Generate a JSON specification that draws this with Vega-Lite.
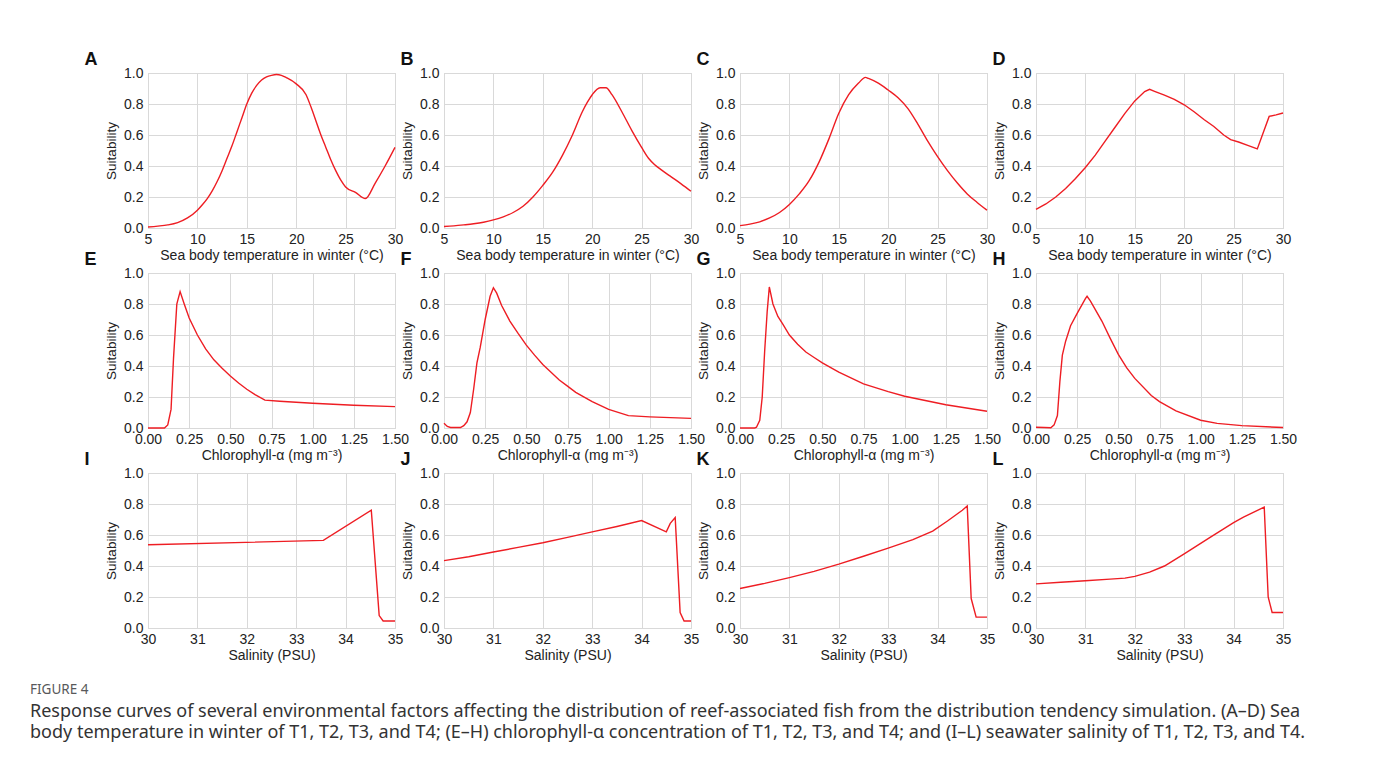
{
  "$schema": "https://vega.github.io/schema/vega-lite/v6.json",
  "background": "white",
  "padding": {"left": 30, "top": 50, "right": 5, "bottom": 5},
  "title": {
    "text": "FIGURE 4",
    "subtitle": [
      "Response curves of several environmental factors affecting the distribution of reef-associated fish from the distribution tendency simulation. (A–D) Sea",
      "body temperature in winter of T1, T2, T3, and T4; (E–H) chlorophyll-α concentration of T1, T2, T3, and T4; and (I–L) seawater salinity of T1, T2, T3, and T4."
    ],
    "orient": "bottom",
    "anchor": "start",
    "frame": "group",
    "dx": -118,
    "offset": 13,
    "font": "Noto Sans",
    "fontSize": 13.5,
    "fontWeight": "normal",
    "color": "#58595b",
    "subtitleFont": "Noto Sans",
    "subtitleFontSize": 18,
    "subtitleColor": "#333333",
    "subtitlePadding": 7,
    "subtitleLineHeight": 21
  },
  "config": {
    "font": "Liberation Sans",
    "view": {"stroke": "#cfcfcf", "strokeWidth": 1},
    "axis": {"domain": false, "ticks": false, "grid": true, "gridColor": "#d9d9d9", "gridWidth": 1, "labelFontSize": 14, "labelColor": "#222222", "labelFlush": false, "titleFontSize": 14, "titleFontWeight": "normal", "titleColor": "#222222"},
    "axisX": {"labelPadding": 4, "titlePadding": 2},
    "axisY": {"labelPadding": 5, "titlePadding": 5, "titleFontSize": 13.5},
    "title": {"anchor": "start", "frame": "bounds", "fontSize": 18, "fontWeight": "bold", "color": "#111111", "offset": 0, "dy": 7},
    "line": {"color": "#ee1d23", "strokeWidth": 1.4}
  },
  "datasets": {
    "A": [{"x":5,"y":0.006},{"x":6,"y":0.012},{"x":7,"y":0.02},{"x":8,"y":0.035},{"x":9,"y":0.065},{"x":10,"y":0.115},{"x":10.5,"y":0.15},{"x":11,"y":0.19},{"x":11.5,"y":0.24},{"x":12,"y":0.3},{"x":12.5,"y":0.37},{"x":13,"y":0.45},{"x":13.5,"y":0.53},{"x":14,"y":0.62},{"x":14.5,"y":0.71},{"x":15,"y":0.8},{"x":15.5,"y":0.87},{"x":16,"y":0.92},{"x":16.5,"y":0.955},{"x":17,"y":0.975},{"x":17.5,"y":0.985},{"x":18,"y":0.99},{"x":18.5,"y":0.985},{"x":19,"y":0.97},{"x":20,"y":0.93},{"x":21,"y":0.86},{"x":21.5,"y":0.78},{"x":22,"y":0.69},{"x":22.5,"y":0.6},{"x":23,"y":0.52},{"x":23.5,"y":0.44},{"x":24,"y":0.37},{"x":24.5,"y":0.31},{"x":25,"y":0.265},{"x":26,"y":0.23},{"x":27,"y":0.19},{"x":28,"y":0.29},{"x":29,"y":0.4},{"x":30,"y":0.52}],
    "B": [{"x":5,"y":0.01},{"x":6,"y":0.014},{"x":7,"y":0.02},{"x":8,"y":0.027},{"x":9,"y":0.037},{"x":10,"y":0.052},{"x":11,"y":0.072},{"x":12,"y":0.1},{"x":13,"y":0.14},{"x":14,"y":0.2},{"x":15,"y":0.275},{"x":16,"y":0.36},{"x":17,"y":0.47},{"x":18,"y":0.6},{"x":19,"y":0.75},{"x":19.5,"y":0.81},{"x":20,"y":0.86},{"x":20.8,"y":0.905},{"x":21.4,"y":0.905},{"x":22,"y":0.86},{"x":23,"y":0.75},{"x":24,"y":0.63},{"x":25,"y":0.52},{"x":25.7,"y":0.45},{"x":26.3,"y":0.41},{"x":27,"y":0.375},{"x":28,"y":0.33},{"x":29,"y":0.285},{"x":30,"y":0.237}],
    "C": [{"x":5,"y":0.015},{"x":6,"y":0.025},{"x":7,"y":0.04},{"x":8,"y":0.065},{"x":9,"y":0.1},{"x":10,"y":0.152},{"x":11,"y":0.22},{"x":12,"y":0.305},{"x":13,"y":0.425},{"x":14,"y":0.575},{"x":15,"y":0.74},{"x":16,"y":0.86},{"x":17,"y":0.935},{"x":17.7,"y":0.972},{"x":18,"y":0.965},{"x":19,"y":0.935},{"x":20,"y":0.89},{"x":21,"y":0.84},{"x":22,"y":0.77},{"x":23,"y":0.67},{"x":24,"y":0.56},{"x":25,"y":0.46},{"x":26,"y":0.37},{"x":27,"y":0.29},{"x":28,"y":0.22},{"x":29,"y":0.165},{"x":30,"y":0.115}],
    "D": [{"x":5,"y":0.12},{"x":6,"y":0.155},{"x":7,"y":0.2},{"x":8,"y":0.255},{"x":9,"y":0.32},{"x":10,"y":0.39},{"x":11,"y":0.47},{"x":12,"y":0.56},{"x":13,"y":0.65},{"x":14,"y":0.74},{"x":15,"y":0.82},{"x":16,"y":0.88},{"x":16.5,"y":0.895},{"x":17,"y":0.882},{"x":18,"y":0.857},{"x":19,"y":0.83},{"x":20,"y":0.795},{"x":21,"y":0.75},{"x":22,"y":0.7},{"x":23,"y":0.655},{"x":24,"y":0.6},{"x":24.7,"y":0.57},{"x":25.5,"y":0.555},{"x":26.5,"y":0.532},{"x":27.4,"y":0.51},{"x":28.6,"y":0.72},{"x":29.3,"y":0.73},{"x":30,"y":0.742}],
    "E": [{"x":0,"y":0.0},{"x":0.1,"y":0.0},{"x":0.12,"y":0.02},{"x":0.14,"y":0.12},{"x":0.155,"y":0.45},{"x":0.175,"y":0.8},{"x":0.18,"y":0.82},{"x":0.195,"y":0.88},{"x":0.22,"y":0.8},{"x":0.25,"y":0.71},{"x":0.3,"y":0.6},{"x":0.35,"y":0.51},{"x":0.4,"y":0.44},{"x":0.45,"y":0.385},{"x":0.5,"y":0.335},{"x":0.55,"y":0.29},{"x":0.6,"y":0.25},{"x":0.65,"y":0.215},{"x":0.71,"y":0.18},{"x":0.8,"y":0.173},{"x":1.0,"y":0.16},{"x":1.25,"y":0.147},{"x":1.5,"y":0.138}],
    "F": [{"x":0,"y":0.03},{"x":0.02,"y":0.01},{"x":0.04,"y":0.003},{"x":0.1,"y":0.003},{"x":0.12,"y":0.015},{"x":0.14,"y":0.04},{"x":0.16,"y":0.1},{"x":0.18,"y":0.25},{"x":0.2,"y":0.42},{"x":0.22,"y":0.52},{"x":0.25,"y":0.7},{"x":0.28,"y":0.85},{"x":0.3,"y":0.905},{"x":0.32,"y":0.87},{"x":0.35,"y":0.79},{"x":0.4,"y":0.69},{"x":0.45,"y":0.61},{"x":0.5,"y":0.535},{"x":0.55,"y":0.47},{"x":0.6,"y":0.41},{"x":0.7,"y":0.31},{"x":0.75,"y":0.27},{"x":0.8,"y":0.23},{"x":0.9,"y":0.17},{"x":1.0,"y":0.12},{"x":1.12,"y":0.08},{"x":1.25,"y":0.072},{"x":1.5,"y":0.062}],
    "G": [{"x":0,"y":0.0},{"x":0.09,"y":0.0},{"x":0.1,"y":0.005},{"x":0.12,"y":0.05},{"x":0.135,"y":0.2},{"x":0.15,"y":0.5},{"x":0.165,"y":0.75},{"x":0.178,"y":0.91},{"x":0.2,"y":0.8},{"x":0.23,"y":0.72},{"x":0.26,"y":0.67},{"x":0.3,"y":0.6},{"x":0.35,"y":0.54},{"x":0.4,"y":0.49},{"x":0.45,"y":0.455},{"x":0.5,"y":0.42},{"x":0.6,"y":0.36},{"x":0.75,"y":0.285},{"x":0.9,"y":0.235},{"x":1.0,"y":0.205},{"x":1.25,"y":0.15},{"x":1.5,"y":0.108}],
    "H": [{"x":0,"y":0.005},{"x":0.05,"y":0.003},{"x":0.09,"y":0.002},{"x":0.11,"y":0.02},{"x":0.13,"y":0.08},{"x":0.145,"y":0.3},{"x":0.16,"y":0.47},{"x":0.18,"y":0.56},{"x":0.21,"y":0.66},{"x":0.25,"y":0.74},{"x":0.3,"y":0.835},{"x":0.31,"y":0.85},{"x":0.33,"y":0.82},{"x":0.4,"y":0.69},{"x":0.45,"y":0.58},{"x":0.5,"y":0.475},{"x":0.55,"y":0.39},{"x":0.6,"y":0.32},{"x":0.7,"y":0.21},{"x":0.75,"y":0.17},{"x":0.85,"y":0.11},{"x":1.0,"y":0.05},{"x":1.1,"y":0.03},{"x":1.25,"y":0.015},{"x":1.5,"y":0.003}],
    "I": [{"x":30,"y":0.537},{"x":33.55,"y":0.565},{"x":34.52,"y":0.76},{"x":34.68,"y":0.08},{"x":34.76,"y":0.045},{"x":35,"y":0.045}],
    "J": [{"x":30,"y":0.435},{"x":30.5,"y":0.46},{"x":31,"y":0.49},{"x":31.5,"y":0.52},{"x":32,"y":0.55},{"x":32.5,"y":0.585},{"x":33,"y":0.62},{"x":33.5,"y":0.655},{"x":34,"y":0.693},{"x":34.5,"y":0.62},{"x":34.58,"y":0.675},{"x":34.68,"y":0.712},{"x":34.78,"y":0.1},{"x":34.86,"y":0.045},{"x":35,"y":0.045}],
    "K": [{"x":30,"y":0.255},{"x":30.5,"y":0.288},{"x":31,"y":0.325},{"x":31.5,"y":0.365},{"x":32,"y":0.412},{"x":32.5,"y":0.463},{"x":33,"y":0.515},{"x":33.5,"y":0.57},{"x":33.9,"y":0.625},{"x":34.2,"y":0.69},{"x":34.5,"y":0.76},{"x":34.6,"y":0.787},{"x":34.68,"y":0.19},{"x":34.78,"y":0.07},{"x":35,"y":0.07}],
    "L": [{"x":30,"y":0.285},{"x":30.5,"y":0.295},{"x":31,"y":0.305},{"x":31.5,"y":0.315},{"x":31.8,"y":0.322},{"x":32,"y":0.333},{"x":32.3,"y":0.36},{"x":32.6,"y":0.4},{"x":33,"y":0.478},{"x":33.5,"y":0.58},{"x":34,"y":0.68},{"x":34.2,"y":0.715},{"x":34.62,"y":0.78},{"x":34.7,"y":0.2},{"x":34.78,"y":0.1},{"x":35,"y":0.1}]
  },
  "columns": 4,
  "bounds": "flush",
  "spacing": {"row": 45, "column": 49},
  "concat": [
    {"data": {"name": "A"}, "title": {"text": "A", "dx": -20}, "width": 247, "height": 155, "mark": {"type": "line", "interpolate": "monotone"},
     "encoding": {"x": {"field": "x", "type": "quantitative", "scale": {"domain": [5, 30], "nice": false, "zero": false}, "axis": {"values": [5, 10, 15, 20, 25, 30], "title": "Sea body temperature in winter (°C)"}},
                  "y": {"field": "y", "type": "quantitative", "scale": {"domain": [0, 1]}, "axis": {"values": [0, 0.2, 0.4, 0.6, 0.8, 1], "format": ".1f", "title": "Suitability"}}}},
    {"data": {"name": "B"}, "title": {"text": "B"}, "width": 247, "height": 155, "mark": {"type": "line", "interpolate": "monotone"},
     "encoding": {"x": {"field": "x", "type": "quantitative", "scale": {"domain": [5, 30], "nice": false, "zero": false}, "axis": {"values": [5, 10, 15, 20, 25, 30], "title": "Sea body temperature in winter (°C)"}},
                  "y": {"field": "y", "type": "quantitative", "scale": {"domain": [0, 1]}, "axis": {"values": [0, 0.2, 0.4, 0.6, 0.8, 1], "format": ".1f", "title": "Suitability"}}}},
    {"data": {"name": "C"}, "title": {"text": "C"}, "width": 247, "height": 155, "mark": {"type": "line", "interpolate": "monotone"},
     "encoding": {"x": {"field": "x", "type": "quantitative", "scale": {"domain": [5, 30], "nice": false, "zero": false}, "axis": {"values": [5, 10, 15, 20, 25, 30], "title": "Sea body temperature in winter (°C)"}},
                  "y": {"field": "y", "type": "quantitative", "scale": {"domain": [0, 1]}, "axis": {"values": [0, 0.2, 0.4, 0.6, 0.8, 1], "format": ".1f", "title": "Suitability"}}}},
    {"data": {"name": "D"}, "title": {"text": "D"}, "width": 247, "height": 155, "mark": {"type": "line", "interpolate": "linear"},
     "encoding": {"x": {"field": "x", "type": "quantitative", "scale": {"domain": [5, 30], "nice": false, "zero": false}, "axis": {"values": [5, 10, 15, 20, 25, 30], "title": "Sea body temperature in winter (°C)"}},
                  "y": {"field": "y", "type": "quantitative", "scale": {"domain": [0, 1]}, "axis": {"values": [0, 0.2, 0.4, 0.6, 0.8, 1], "format": ".1f", "title": "Suitability"}}}},
    {"data": {"name": "E"}, "title": {"text": "E", "dx": -20}, "width": 247, "height": 155, "mark": {"type": "line", "interpolate": "linear"},
     "encoding": {"x": {"field": "x", "type": "quantitative", "scale": {"domain": [0, 1.5], "nice": false}, "axis": {"values": [0, 0.25, 0.5, 0.75, 1, 1.25, 1.5], "format": ".2f", "title": "Chlorophyll-α (mg m⁻³)"}},
                  "y": {"field": "y", "type": "quantitative", "scale": {"domain": [0, 1]}, "axis": {"values": [0, 0.2, 0.4, 0.6, 0.8, 1], "format": ".1f", "title": "Suitability"}}}},
    {"data": {"name": "F"}, "title": {"text": "F"}, "width": 247, "height": 155, "mark": {"type": "line", "interpolate": "linear"},
     "encoding": {"x": {"field": "x", "type": "quantitative", "scale": {"domain": [0, 1.5], "nice": false}, "axis": {"values": [0, 0.25, 0.5, 0.75, 1, 1.25, 1.5], "format": ".2f", "title": "Chlorophyll-α (mg m⁻³)"}},
                  "y": {"field": "y", "type": "quantitative", "scale": {"domain": [0, 1]}, "axis": {"values": [0, 0.2, 0.4, 0.6, 0.8, 1], "format": ".1f", "title": "Suitability"}}}},
    {"data": {"name": "G"}, "title": {"text": "G"}, "width": 247, "height": 155, "mark": {"type": "line", "interpolate": "linear"},
     "encoding": {"x": {"field": "x", "type": "quantitative", "scale": {"domain": [0, 1.5], "nice": false}, "axis": {"values": [0, 0.25, 0.5, 0.75, 1, 1.25, 1.5], "format": ".2f", "title": "Chlorophyll-α (mg m⁻³)"}},
                  "y": {"field": "y", "type": "quantitative", "scale": {"domain": [0, 1]}, "axis": {"values": [0, 0.2, 0.4, 0.6, 0.8, 1], "format": ".1f", "title": "Suitability"}}}},
    {"data": {"name": "H"}, "title": {"text": "H"}, "width": 247, "height": 155, "mark": {"type": "line", "interpolate": "linear"},
     "encoding": {"x": {"field": "x", "type": "quantitative", "scale": {"domain": [0, 1.5], "nice": false}, "axis": {"values": [0, 0.25, 0.5, 0.75, 1, 1.25, 1.5], "format": ".2f", "title": "Chlorophyll-α (mg m⁻³)"}},
                  "y": {"field": "y", "type": "quantitative", "scale": {"domain": [0, 1]}, "axis": {"values": [0, 0.2, 0.4, 0.6, 0.8, 1], "format": ".1f", "title": "Suitability"}}}},
    {"data": {"name": "I"}, "title": {"text": "I", "dx": -20}, "width": 247, "height": 155, "mark": {"type": "line", "interpolate": "linear"},
     "encoding": {"x": {"field": "x", "type": "quantitative", "scale": {"domain": [30, 35], "nice": false, "zero": false}, "axis": {"values": [30, 31, 32, 33, 34, 35], "title": "Salinity (PSU)"}},
                  "y": {"field": "y", "type": "quantitative", "scale": {"domain": [0, 1]}, "axis": {"values": [0, 0.2, 0.4, 0.6, 0.8, 1], "format": ".1f", "title": "Suitability"}}}},
    {"data": {"name": "J"}, "title": {"text": "J"}, "width": 247, "height": 155, "mark": {"type": "line", "interpolate": "linear"},
     "encoding": {"x": {"field": "x", "type": "quantitative", "scale": {"domain": [30, 35], "nice": false, "zero": false}, "axis": {"values": [30, 31, 32, 33, 34, 35], "title": "Salinity (PSU)"}},
                  "y": {"field": "y", "type": "quantitative", "scale": {"domain": [0, 1]}, "axis": {"values": [0, 0.2, 0.4, 0.6, 0.8, 1], "format": ".1f", "title": "Suitability"}}}},
    {"data": {"name": "K"}, "title": {"text": "K"}, "width": 247, "height": 155, "mark": {"type": "line", "interpolate": "linear"},
     "encoding": {"x": {"field": "x", "type": "quantitative", "scale": {"domain": [30, 35], "nice": false, "zero": false}, "axis": {"values": [30, 31, 32, 33, 34, 35], "title": "Salinity (PSU)"}},
                  "y": {"field": "y", "type": "quantitative", "scale": {"domain": [0, 1]}, "axis": {"values": [0, 0.2, 0.4, 0.6, 0.8, 1], "format": ".1f", "title": "Suitability"}}}},
    {"data": {"name": "L"}, "title": {"text": "L"}, "width": 247, "height": 155, "mark": {"type": "line", "interpolate": "linear"},
     "encoding": {"x": {"field": "x", "type": "quantitative", "scale": {"domain": [30, 35], "nice": false, "zero": false}, "axis": {"values": [30, 31, 32, 33, 34, 35], "title": "Salinity (PSU)"}},
                  "y": {"field": "y", "type": "quantitative", "scale": {"domain": [0, 1]}, "axis": {"values": [0, 0.2, 0.4, 0.6, 0.8, 1], "format": ".1f", "title": "Suitability"}}}}
  ]
}
